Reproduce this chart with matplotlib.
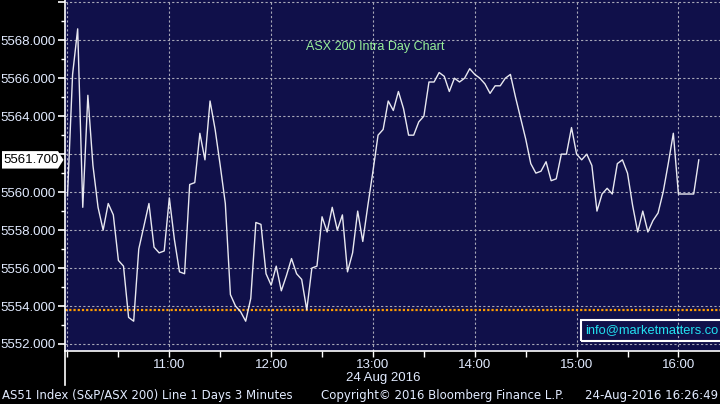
import numpy as np
import matplotlib
matplotlib.use("Agg")
import matplotlib.pyplot as plt
from matplotlib.patches import Polygon, Rectangle
from matplotlib.lines import Line2D

plt.rcParams['font.family'] = ['Liberation Sans', 'DejaVu Sans']

# 3 minute bars, minutes after 10:00
minutes = np.arange(0, 375, 3)
closes = [
    5559.8, 5566.2, 5568.6, 5559.2, 5565.1, 5561.4, 5559.2, 5558.0, 5559.4, 5558.8,
    5556.4, 5556.1, 5553.4, 5553.2, 5557.0, 5558.2, 5559.4, 5557.1, 5556.8, 5556.9,
    5559.7, 5557.5, 5555.8, 5555.7, 5560.4, 5560.5, 5563.1, 5561.7, 5564.8, 5563.3,
    5561.4, 5559.4, 5554.6, 5554.0, 5553.7, 5553.2, 5554.4, 5558.4, 5558.3, 5555.7,
    5555.1, 5556.1, 5554.8, 5555.6, 5556.5, 5555.7, 5555.4, 5553.8, 5556.0, 5556.1,
    5558.7, 5557.9, 5559.2, 5558.0, 5558.8, 5555.8, 5556.8, 5559.0, 5557.4, 5559.3,
    5561.1, 5563.0, 5563.3, 5564.8, 5564.3, 5565.3, 5564.4, 5563.0, 5563.0, 5563.7,
    5564.0, 5565.8, 5565.8, 5566.3, 5566.1, 5565.3, 5566.0, 5565.8, 5566.0, 5566.5,
    5566.2, 5566.0, 5565.7, 5565.2, 5565.6, 5565.6, 5566.0, 5566.2, 5565.0, 5563.9,
    5562.8, 5561.5, 5561.0, 5561.1, 5561.6, 5560.6, 5560.7, 5562.0, 5562.0, 5563.4,
    5562.0, 5561.7, 5562.0, 5561.4, 5559.0, 5559.9, 5560.2, 5559.9, 5561.5, 5561.7,
    5561.0, 5559.3, 5557.9, 5559.0, 5557.9, 5558.5, 5558.9, 5560.0, 5561.5, 5563.1,
    5559.9, 5559.9, 5559.9, 5559.9, 5561.7,
]
prev_close = 5553.8
last_price = 5561.7

hour_marks = [0, 60, 120, 180, 240, 300, 360]
hour_labels = ['', '11:00', '12:00', '13:00', '14:00', '15:00', '16:00']
half_hours = [30, 90, 150, 210, 270, 330]
price_ticks = [5552, 5554, 5556, 5558, 5560, 5562, 5564, 5566, 5568, 5570]
hidden_labels = [5562, 5570]

W, H = 720, 404
navy = '#10104a'
label_col = '#e2ebff'

fig = plt.figure(figsize=(7.2, 4.04), dpi=100, facecolor='black')
ax = fig.add_axes([65 / W, 1 - 351 / H, 655 / W, 351 / H], facecolor=navy)

ax.plot(minutes, closes, color='#e8e8f0', lw=1.0, zorder=3)
ax.axhline(prev_close, color='#ff9c00', lw=1.6, linestyle=(0, (1, 0.9)), zorder=2)

ax.set_xlim(-1.47, 384.5)
ax.set_ylim(5551.63, 5570.12)

ax.set_xticks(hour_marks)
ax.set_xticklabels(hour_labels)
ax.set_xticks(half_hours, minor=True)
ax.set_yticks(price_ticks)
ax.set_yticklabels(['' if v in hidden_labels else f'{v:.3f}' for v in price_ticks])
ax.set_yticks(np.arange(5553, 5570, 2), minor=True)

ax.grid(True, which='major', color='#a8a8b8', linestyle=(0, (2, 2)), lw=0.8, zorder=1)
for s in ['top', 'right']:
    ax.spines[s].set_visible(False)
for s in ['left', 'bottom']:
    ax.spines[s].set_color('white')
    ax.spines[s].set_linewidth(1.2)

ax.tick_params(axis='y', which='major', direction='out', length=5, width=1.2,
               color='white', labelcolor=label_col, labelsize=9.5, pad=2)
ax.tick_params(axis='y', which='minor', direction='out', length=3, width=1, color='white')
ax.tick_params(axis='x', which='both', direction='out', length=4, width=1,
               color='white', labelcolor=label_col, labelsize=9.5, pad=1.5)

# last price marker on the left axis
ytr = ax.get_yaxis_transform()
hh = 0.46
x0, x1, xt = -63 / 655, -7 / 655, -1.5 / 655
ax.add_patch(Polygon([(x0, last_price - hh), (x1, last_price - hh), (xt, last_price),
                      (x1, last_price + hh), (x0, last_price + hh)],
                     closed=True, facecolor='white', edgecolor='none',
                     transform=ytr, clip_on=False, zorder=5))
ax.text(-34 / 655, last_price, f'{last_price:.3f}', transform=ytr, ha='center',
        va='center', color='black', fontsize=9.5, zorder=6)

fig.text(375 / W, 1 - 47 / H, 'ASX 200 Intra Day Chart', color='#98f098',
         ha='center', va='center', fontsize=9)

fig.add_artist(Rectangle((581 / W, 1 - 341 / H), 150 / W, 21 / H, transform=fig.transFigure,
                         fill=False, edgecolor='white', lw=1.5))
fig.text(585 / W, 1 - 330 / H, 'info@marketmatters.co', color='#22e0f0',
         ha='left', va='center', fontsize=9.3)

fig.add_artist(Line2D([65 / W, 65 / W], [1 - 385 / H, 1 - 351 / H], color='white',
                      lw=1.2, transform=fig.transFigure))
fig.text(383 / W, 1 - 378 / H, '24 Aug 2016', color=label_col, ha='center',
         va='center', fontsize=9.5)

foot = dict(color=label_col, va='center', fontsize=8.5, family='DejaVu Sans')
fig.text(2 / W, 1 - 396 / H, 'AS51 Index (S&P/ASX 200) Line 1 Days 3 Minutes', ha='left', **foot)
fig.text(321 / W, 1 - 396 / H, 'Copyright\u00a9 2016 Bloomberg Finance L.P.', ha='left', **foot)
fig.text(718 / W, 1 - 396 / H, '24-Aug-2016 16:26:49', ha='right', **foot)

fig.savefig('out.png', dpi=100, facecolor='black')
